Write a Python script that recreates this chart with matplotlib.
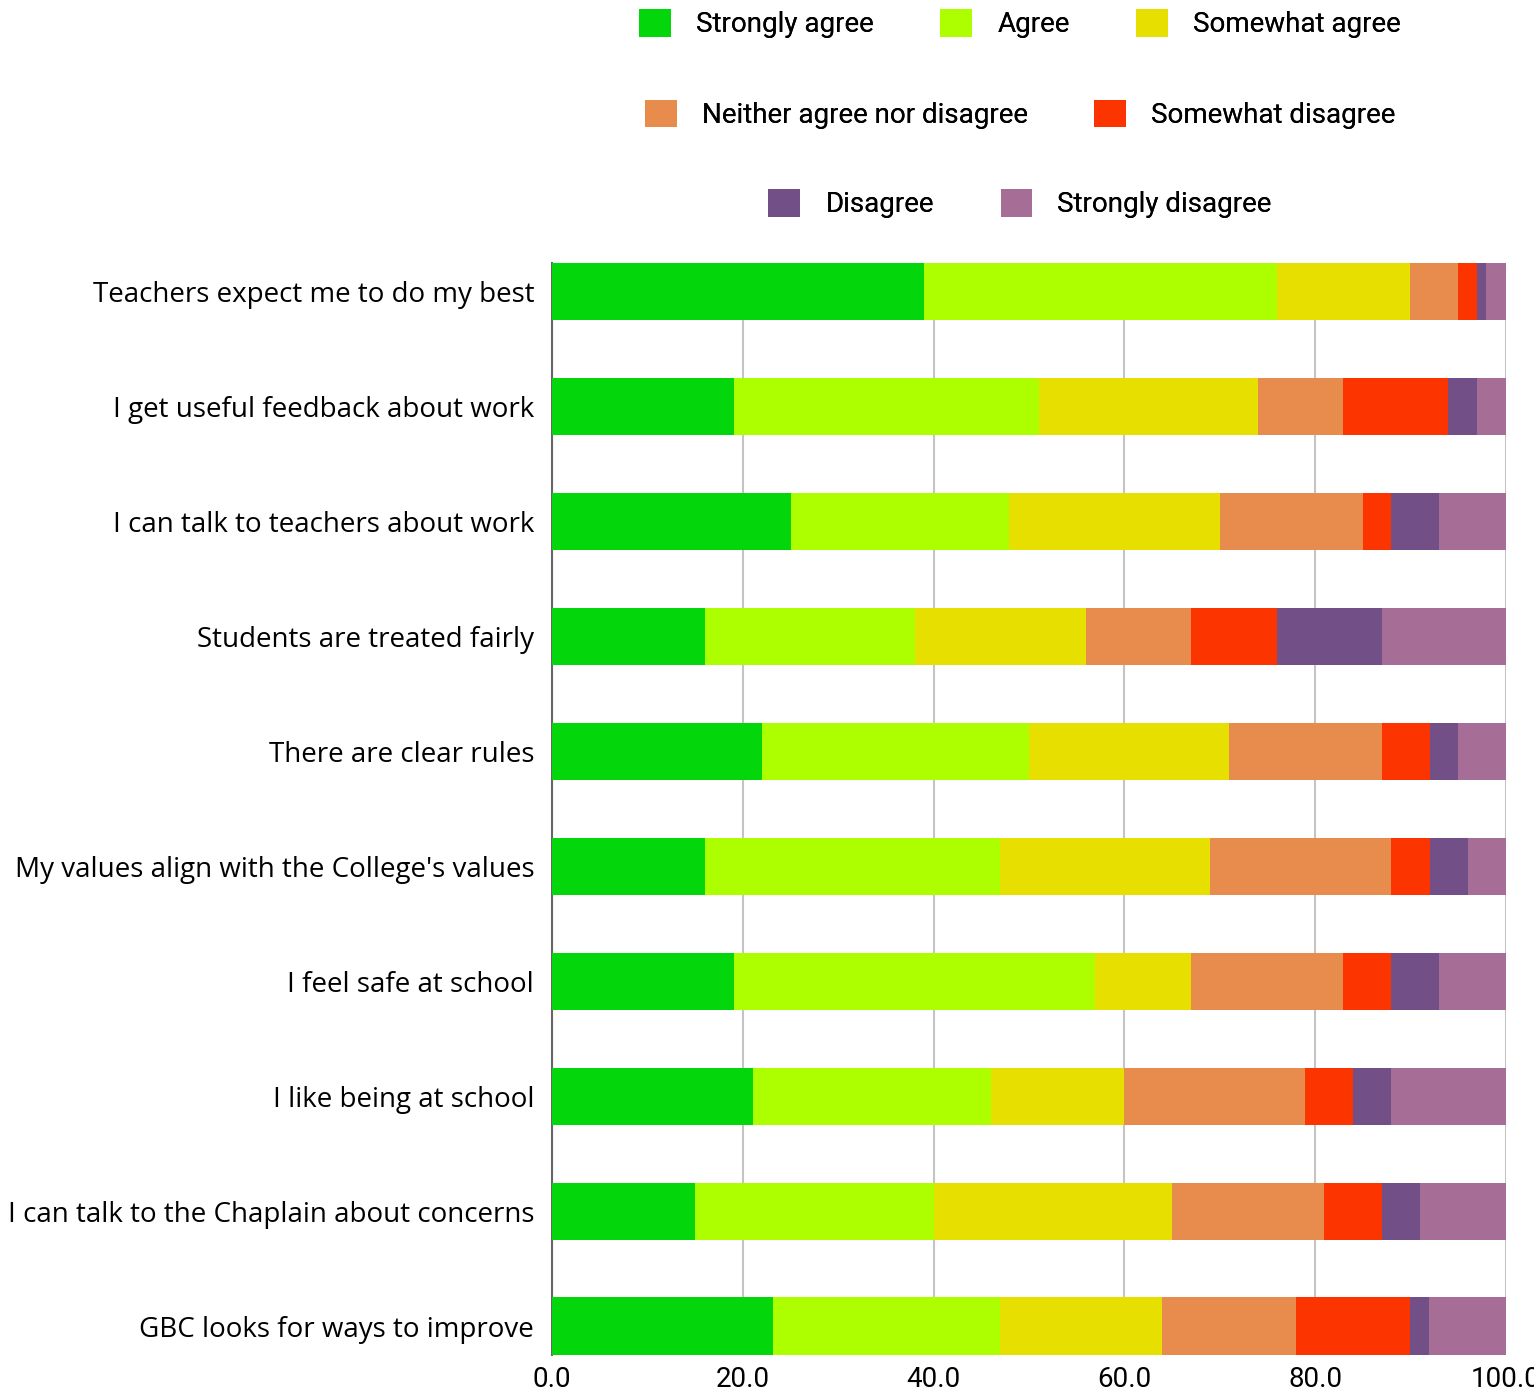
import matplotlib.pyplot as plt
import numpy as np
from matplotlib.patches import Patch

questions = [
    "Teachers expect me to do my best",
    "I get useful feedback about work",
    "I can talk to teachers about work",
    "Students are treated fairly",
    "There are clear rules",
    "My values align with the College's values",
    "I feel safe at school",
    "I like being at school",
    "I can talk to the Chaplain about concerns",
    "GBC looks for ways to improve",
]

categories = ["Strongly agree", "Agree", "Somewhat agree",
              "Neither agree nor disagree", "Somewhat disagree",
              "Disagree", "Strongly disagree"]

strongly_agree = [39.0, 19.1, 25.0, 16.0, 22.0, 16.0, 19.1, 21.1, 15.0, 23.1]
agree          = [37.0, 31.9, 22.9, 22.0, 28.0, 30.9, 37.8, 24.9, 25.0, 23.8]
somewhat_agree = [13.9, 23.0, 22.1, 18.0, 21.0, 22.1, 10.1, 14.0, 25.0, 17.0]
neither        = [5.1, 8.9, 15.0, 11.0, 16.0, 19.0, 15.9, 18.9, 15.9, 14.1]
somewhat_dis   = [2.0, 11.0, 2.9, 9.0, 5.0, 4.0, 5.0, 5.1, 6.1, 11.9]
disagree       = [0.9, 3.1, 5.1, 11.0, 3.0, 4.0, 5.1, 3.9, 4.0, 2.0]
strongly_dis   = [2.1, 3.0, 7.0, 13.0, 5.0, 4.1, 7.0, 12.1, 9.0, 8.1]

series = [strongly_agree, agree, somewhat_agree, neither,
          somewhat_dis, disagree, strongly_dis]
colors = ["#03D70B", "#ADFF00", "#E6DF00", "#E88C4E",
          "#FC3500", "#724F87", "#A66E96"]

label_font = ["Open Sans", "DejaVu Sans"]
narrow_font = ["Liberation Sans Narrow", "Roboto", "DejaVu Sans"]

fig = plt.figure(figsize=(15.34, 13.95), dpi=100)
ax = fig.add_axes([0.36, 0.0287, 0.6217, 0.7828])

y = np.arange(len(questions))
left = np.zeros(len(questions))
for vals, col, name in zip(series, colors, categories):
    ax.barh(y, vals, left=left, height=0.5, color=col, label=name, zorder=3)
    left += np.array(vals)

ax.set_xlim(0, 100)
ax.set_ylim(len(questions) - 0.75, -0.25)
ax.set_yticks(y)
ax.set_yticklabels(questions, fontsize=20, family=label_font)
ax.set_xticks([0, 20, 40, 60, 80, 100])
ax.set_xticklabels([f"{v:.1f}" for v in [0, 20, 40, 60, 80, 100]],
                   fontsize=20, family=narrow_font)
ax.tick_params(axis="both", length=0)
ax.tick_params(axis="y", pad=13)
ax.tick_params(axis="x", pad=8)
ax.xaxis.grid(True, color="#c4c4c4", linewidth=1.5, zorder=0)
for s in ["top", "right", "bottom"]:
    ax.spines[s].set_visible(False)
ax.spines["left"].set_color("#666666")
ax.spines["left"].set_linewidth(1.5)

# легенда в три строки, как в оригинале
handles = [Patch(facecolor=c, label=n) for c, n in zip(colors, categories)]
rows = [(handles[0:3], 0.983), (handles[3:5], 0.918), (handles[5:7], 0.854)]
for hs, yy in rows:
    leg = fig.legend(handles=hs, loc="center", bbox_to_anchor=(0.665, yy),
                     ncol=len(hs), frameon=False,
                     prop={"family": narrow_font, "size": 20},
                     handlelength=1.15, handleheight=1.15,
                     handletextpad=0.9, columnspacing=2.4)
    fig.add_artist(leg)

fig.savefig("out.png", dpi=100)
